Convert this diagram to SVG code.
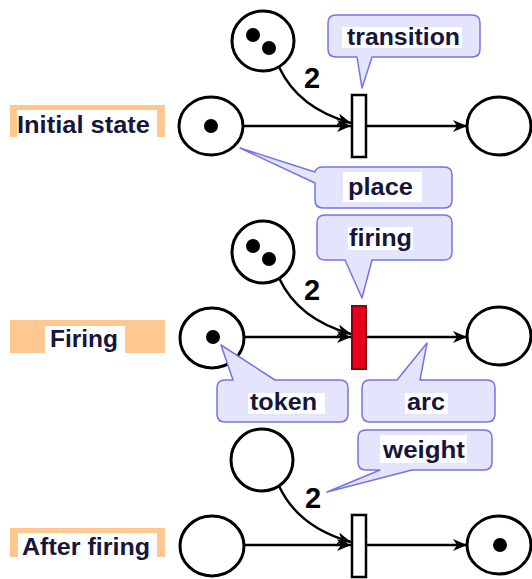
<svg xmlns="http://www.w3.org/2000/svg" width="532" height="579" viewBox="0 0 532 579">
<defs>
<style>
.pl{fill:#fff;stroke:#000;stroke-width:3}
.tk{fill:#000}
.tr{fill:#fff;stroke:#000;stroke-width:2.5}
.trf{fill:#e8001c;stroke:#8a0010;stroke-width:2}
.arc{fill:none;stroke:#000;stroke-width:2.4}
.co{fill:#e4e4fc;stroke:#7474e6;stroke-width:1.5;stroke-linejoin:round}
.wb{fill:#fff}
.lbl{fill:#ffc890}
.t{font-family:"Liberation Sans",Arial,sans-serif;font-weight:bold;font-size:23px;fill:#16163c}
.w{font-family:"Liberation Sans",Arial,sans-serif;font-weight:bold;font-size:29px;fill:#000}
</style>
<marker id="ah" markerUnits="userSpaceOnUse" markerWidth="16" markerHeight="12" refX="14" refY="6" orient="auto">
<path d="M0,0 L14,6 L0,12 L4,6 z" fill="#000"/>
</marker>
</defs>

<!-- state labels -->
<g id="label-initial">
<rect class="lbl" x="10" y="105" width="155" height="32"/>
<rect class="wb" x="17" y="110" width="140" height="27"/>
<text class="t" x="17" y="133" textLength="133" lengthAdjust="spacingAndGlyphs">Initial state</text>
</g>
<g id="label-firing">
<rect class="lbl" x="10" y="320" width="155" height="33"/>
<rect class="wb" x="45" y="326" width="80" height="27"/>
<text class="t" x="50" y="347" textLength="68" lengthAdjust="spacingAndGlyphs">Firing</text>
</g>
<g id="label-after">
<rect class="lbl" x="10" y="528" width="155" height="29"/>
<rect class="wb" x="18" y="533" width="139" height="24"/>
<text class="t" x="22" y="555" textLength="128" lengthAdjust="spacingAndGlyphs">After firing</text>
</g>

<!-- connectors -->
<g id="connectors">
<line class="arc" x1="244" y1="126" x2="351" y2="126" marker-end="url(#ah)"/>
<line class="arc" x1="367" y1="126" x2="467" y2="126" marker-end="url(#ah)"/>
<path class="arc" d="M279 67 C292 95 315 113 351 123" marker-end="url(#ah)"/>
<line class="arc" x1="245" y1="337" x2="351" y2="337" marker-end="url(#ah)"/>
<line class="arc" x1="367" y1="337" x2="467" y2="337" marker-end="url(#ah)"/>
<path class="arc" d="M279 278 C292 306 315 324 351 334" marker-end="url(#ah)"/>
<line class="arc" x1="245" y1="545" x2="351" y2="545" marker-end="url(#ah)"/>
<line class="arc" x1="367" y1="545" x2="467" y2="545" marker-end="url(#ah)"/>
<path class="arc" d="M279 486 C292 514 315 532 351 542" marker-end="url(#ah)"/>
<text class="w" x="304" y="88">2</text>
<text class="w" x="304" y="300">2</text>
<text class="w" x="305" y="508">2</text>
</g>

<!-- row 1 -->
<g id="p1-top"><ellipse class="pl" cx="263" cy="41" rx="31" ry="30"/><circle class="tk" cx="253" cy="35" r="7"/><circle class="tk" cx="269" cy="48" r="7"/></g>
<g id="p1-left"><ellipse class="pl" cx="211" cy="126" rx="32" ry="29"/><circle class="tk" cx="211" cy="126" r="7"/></g>
<g id="t1"><rect class="tr" x="352" y="95" width="14" height="62"/></g>
<g id="p1-right"><ellipse class="pl" cx="499" cy="126" rx="32" ry="29"/></g>

<!-- row 2 -->
<g id="p2-top"><ellipse class="pl" cx="263" cy="252" rx="31" ry="31"/><circle class="tk" cx="253" cy="246" r="7"/><circle class="tk" cx="269" cy="259" r="7"/></g>
<g id="p2-left"><ellipse class="pl" cx="212" cy="338" rx="32" ry="30"/><circle class="tk" cx="213" cy="337" r="7"/></g>
<g id="t2"><rect class="trf" x="352" y="306" width="14" height="63"/></g>
<g id="p2-right"><ellipse class="pl" cx="499" cy="336" rx="32" ry="29"/></g>

<!-- row 3 -->
<g id="p3-top"><ellipse class="pl" cx="262" cy="460" rx="31" ry="31"/></g>
<g id="p3-left"><ellipse class="pl" cx="212" cy="546" rx="32" ry="30"/></g>
<g id="t3"><rect class="tr" x="352" y="515" width="14" height="62"/></g>
<g id="p3-right"><ellipse class="pl" cx="499" cy="545" rx="32" ry="29"/><circle class="tk" cx="500" cy="545" r="7"/></g>

<!-- callouts -->
<g id="c-transition">
<path class="co" d="M336 15 H472 Q480 15 480 23 V49 Q480 57 472 57 H372 L362 88 L357 57 H336 Q328 57 328 49 V23 Q328 15 336 15 Z"/>
<rect class="wb" x="342" y="27" width="120" height="21"/>
<text class="t" x="347" y="45" textLength="113" lengthAdjust="spacingAndGlyphs">transition</text>
</g>
<g id="c-place">
<path class="co" d="M323 167 H444 Q452 167 452 175 V200 Q452 208 444 208 H323 Q315 208 315 200 V183 L240 148 L315 172 Q316 167 323 167 Z"/>
<rect class="wb" x="343" y="172" width="79" height="30"/>
<text class="t" x="348" y="195" textLength="65" lengthAdjust="spacingAndGlyphs">place</text>
</g>
<g id="c-firing">
<path class="co" d="M325 215 H444 Q452 215 452 223 V252 Q452 260 444 260 H372 L362 298 L345 260 H325 Q317 260 317 252 V223 Q317 215 325 215 Z"/>
<rect class="wb" x="348" y="227" width="65" height="23"/>
<text class="t" x="349" y="246" textLength="63" lengthAdjust="spacingAndGlyphs">firing</text>
</g>
<g id="c-token">
<path class="co" d="M225 380 H233 L221 345 L275 380 H340 Q348 380 348 388 V414 Q348 422 340 422 H225 Q217 422 217 414 V388 Q217 380 225 380 Z"/>
<rect class="wb" x="248" y="393" width="77" height="21"/>
<text class="t" x="250" y="410" textLength="67" lengthAdjust="spacingAndGlyphs">token</text>
</g>
<g id="c-arc">
<path class="co" d="M370 380 H397 L427 343 L420 380 H487 Q495 380 495 388 V414 Q495 422 487 422 H370 Q362 422 362 414 V388 Q362 380 370 380 Z"/>
<rect class="wb" x="405" y="393" width="43" height="21"/>
<text class="t" x="407" y="410" textLength="38" lengthAdjust="spacingAndGlyphs">arc</text>
</g>
<g id="c-weight">
<path class="co" d="M366 430 H484 Q492 430 492 438 V462 Q492 470 484 470 H412 L327 492 L380 470 H366 Q358 470 358 462 V438 Q358 430 366 430 Z"/>
<rect class="wb" x="380" y="435" width="87" height="28"/>
<text class="t" x="383" y="458" textLength="82" lengthAdjust="spacingAndGlyphs">weight</text>
</g>
</svg>
